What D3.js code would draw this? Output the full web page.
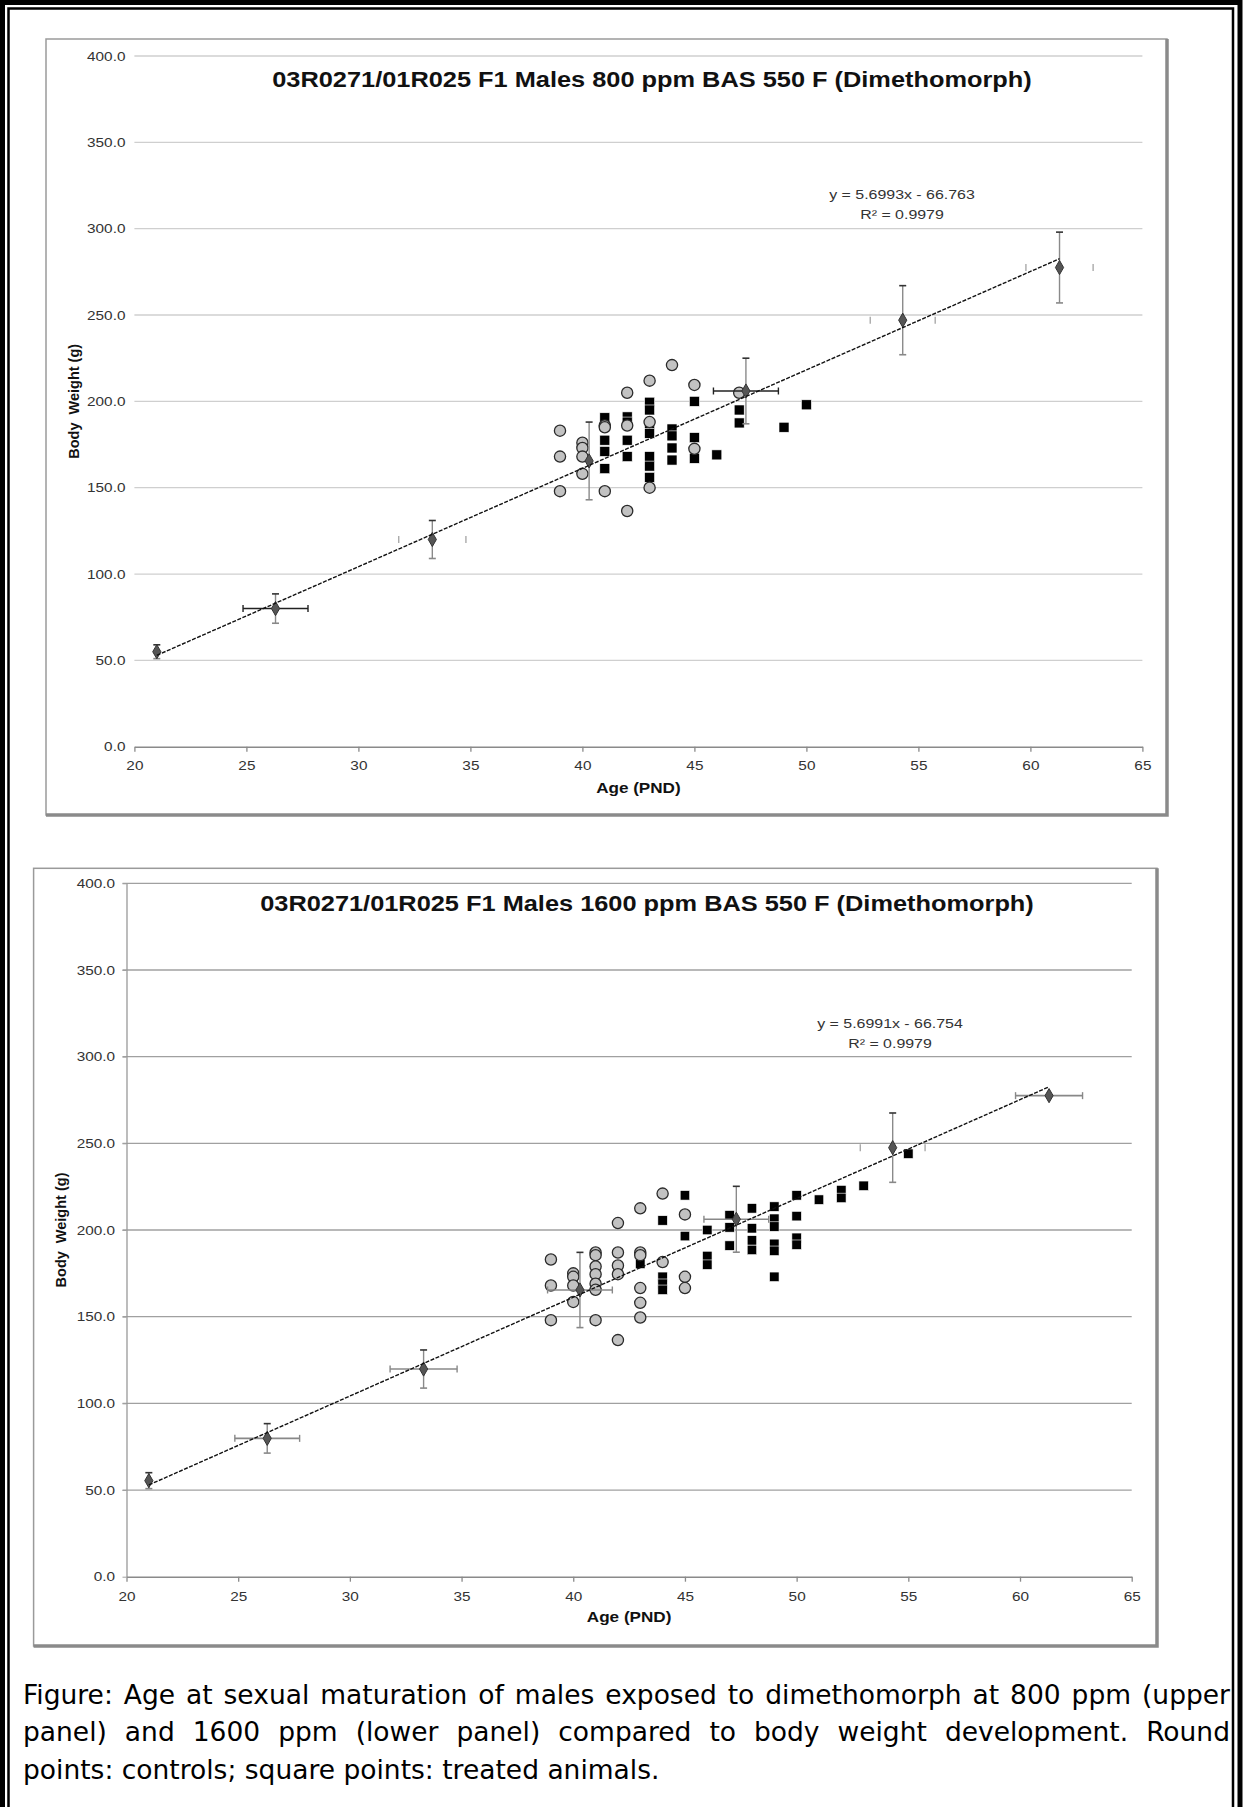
<!DOCTYPE html>
<html>
<head>
<meta charset="utf-8">
<script src="https://cdn.jsdelivr.net/npm/d3@7"></script>
<style>
  body { margin: 0; background: #fff; }
  svg { display: block; }
</style>
</head>
<body>
<div id="svg-area"></div>
<script>
// ---------- data ----------
var ageTicks = [20, 25, 30, 35, 40, 45, 50, 55, 60, 65];
var weightTicks = [0, 50, 100, 150, 200, 250, 300, 350, 400];

// mean body weight curve (diamonds) with SD
var bwAge = [21, 26.3, 33.3, 40.3, 47.3, 54.3, 61.3];
var bwAgeSd = [0, 1.45, 1.5, 1.45, 1.45, 1.45, 1.5];
var bwMean800 = [55, 80, 120, 165.5, 206, 247, 277.5];
var bwSd800 = [4, 8.5, 11, 22.5, 19, 20, 20.5];
var bwMean1600 = [55.4, 79.8, 119.8, 165.4, 206.2, 247.5, 277.5];
var bwSd1600 = [4.6, 8.5, 11, 21.7, 19, 20, 0];

// linear trend of the body weight curve
var trend800 = { slope: 5.6993, intercept: -66.763, r2: 0.9979 };
var trend1600 = { slope: 5.6991, intercept: -66.754, r2: 0.9979 };
var trendRange = [21, 61.3];

// age at sexual maturation vs body weight: controls (round) and treated (square)
var control800 = [
  [39, 183], [39, 168], [39, 148],
  [40, 176], [40, 173], [40, 168], [40, 158],
  [41, 186], [41, 185], [41, 148],
  [42, 205], [42, 186], [42, 136.5],
  [43, 212], [43, 188], [43, 150],
  [44, 221],
  [45, 209.5], [45, 172.5],
  [47, 205]
];
var treated800 = [
  [41, 190.5], [41, 177.5], [41, 171], [41, 161],
  [42, 191], [42, 188], [42, 177.5], [42, 168],
  [43, 199.5], [43, 195], [43, 187], [43, 181.5], [43, 168], [43, 162.5], [43, 156],
  [44, 184], [44, 180], [44, 173], [44, 166],
  [45, 200], [45, 179], [45, 167],
  [46, 169],
  [47, 195], [47, 187.5],
  [49, 185],
  [50, 198]
];
var control1600 = [
  [39, 183], [39, 168], [39, 148],
  [40, 175], [40, 173], [40, 168], [40, 158.5],
  [41, 187], [41, 185.5], [41, 179], [41, 174.5], [41, 169], [41, 165.5], [41, 148],
  [42, 204], [42, 187], [42, 179.5], [42, 174.5], [42, 136.5],
  [43, 212.5], [43, 187], [43, 185.5], [43, 166.5], [43, 158], [43, 149.5],
  [44, 221], [44, 181.5],
  [45, 209], [45, 173], [45, 166.5]
];
var treated1600 = [
  [43, 180.5],
  [44, 205.5], [44, 173], [44, 169], [44, 165.5],
  [45, 220], [45, 196.5],
  [46, 200], [46, 185], [46, 180],
  [47, 208.5], [47, 201.5], [47, 191],
  [48, 212.5], [48, 201], [48, 194], [48, 188.5],
  [49, 213.5], [49, 206.5], [49, 202], [49, 192], [49, 188], [49, 173],
  [50, 220], [50, 208], [50, 195.5], [50, 191.5],
  [51, 217.5],
  [52, 223], [52, 218.5],
  [53, 225.5],
  [55, 244]
];

var titles = [
  "03R0271/01R025 F1 Males 800 ppm BAS 550 F (Dimethomorph)",
  "03R0271/01R025 F1 Males 1600 ppm BAS 550 F (Dimethomorph)"
];
var captionLines = [
  "Figure: Age at sexual maturation of males exposed to dimethomorph at 800 ppm (upper",
  "panel) and 1600 ppm (lower panel) compared to body weight development. Round",
  "points: controls; square points: treated animals."
];

// ---------- page ----------
var svgWidth = 1243;
var svgHeight = 1807;
var chartFont = "'Liberation Sans', Arial, sans-serif";
var capFont = "'DejaVu Sans', Verdana, sans-serif";
var stretch = 1.18; // chart pictures are a bit wider than tall

var svg = d3.select("#svg-area").append("svg")
    .attr("width", svgWidth)
    .attr("height", svgHeight);

svg.append("rect").attr("width", svgWidth).attr("height", svgHeight).attr("fill", "#fff");

// double page border (no bottom edge, the page continues)
svg.append("path")
    .attr("d", `M2.5,${svgHeight} V2.5 H${svgWidth - 3} V${svgHeight}`)
    .attr("fill", "none").attr("stroke", "#000").attr("stroke-width", 5);
svg.append("path")
    .attr("d", `M8.5,${svgHeight} V8.5 H${svgWidth - 10} V${svgHeight}`)
    .attr("fill", "none").attr("stroke", "#000").attr("stroke-width", 2.5);

// horizontally stretched text
function sText(parent, x, y, txt, size, opts) {
    opts = opts || {};
    return parent.append("text")
        .attr("transform", `translate(${x},${y}) scale(${stretch},1)`)
        .attr("font-family", chartFont)
        .attr("font-size", size)
        .attr("font-weight", opts.bold ? "bold" : "normal")
        .attr("fill", opts.fill || "#222")
        .attr("text-anchor", opts.anchor || "middle")
        .text(txt);
}

function drawPanel(p) {
    var g = svg.append("g");

    // chart frame with shadow
    g.append("rect")
        .attr("x", p.frame[0]).attr("y", p.frame[1])
        .attr("width", p.frame[2]).attr("height", p.frame[3])
        .attr("fill", "#fff").attr("stroke", "#9a9a9a").attr("stroke-width", 1.5);
    g.append("path")
        .attr("d", `M${p.frame[0]},${p.frame[1] + p.frame[3]} H${p.frame[0] + p.frame[2]} V${p.frame[1]}`)
        .attr("fill", "none").attr("stroke", "#8a8a8a").attr("stroke-width", 3.5);

    var x = d3.scaleLinear().domain([20, 65]).range([p.left, p.right]);
    var y = d3.scaleLinear().domain([0, 400]).range([p.bottom, p.top]);

    // horizontal gridlines
    g.append("g").selectAll("line")
        .data(weightTicks.filter(d => d > 0))
        .join("line")
        .attr("x1", p.left - p.yTick).attr("x2", p.right)
        .attr("y1", d => y(d)).attr("y2", d => y(d))
        .attr("stroke", p.gridColor).attr("stroke-width", 1.3);

    // x axis
    var xAxis = g.append("g")
        .attr("transform", `translate(0,${p.bottom})`)
        .call(d3.axisBottom(x).tickValues(ageTicks).tickSize(5).tickSizeOuter(0).tickFormat(d3.format("d")));
    xAxis.select(".domain").attr("stroke", "#8a8a8a").attr("stroke-width", 1.6);
    xAxis.selectAll(".tick line").attr("stroke", "#8a8a8a").attr("stroke-width", 1.3);
    xAxis.selectAll(".tick text")
        .attr("font-family", chartFont).attr("font-size", 13).attr("fill", "#333")
        .attr("y", p.xLabelY - p.bottom).attr("dy", 0)
        .attr("transform", `scale(${stretch},1)`);

    // y axis
    var yAxis = g.append("g")
        .attr("transform", `translate(${p.left},0)`)
        .call(d3.axisLeft(y).tickValues(weightTicks).tickSize(p.yTick).tickSizeOuter(0).tickFormat(d3.format(".1f")));
    yAxis.select(".domain").attr("stroke", p.showYLine ? "#999" : "none").attr("stroke-width", 1.3);
    yAxis.selectAll(".tick line").attr("stroke", p.gridColor);
    yAxis.selectAll(".tick text")
        .attr("font-family", chartFont).attr("font-size", 13).attr("fill", "#333")
        .attr("x", -p.yLabelGap / stretch)
        .attr("transform", `scale(${stretch},1)`);

    // titles
    sText(g, p.titleX, p.titleY, p.title, 21.5, { bold: true, fill: "#111" });
    sText(g, (p.left + p.right) / 2, p.xTitleY, "Age (PND)", 14.5, { bold: true, fill: "#111" });
    g.append("text")
        .attr("transform", `translate(${p.yTitleX},${(p.top + p.bottom) / 2}) rotate(-90)`)
        .attr("font-family", chartFont).attr("font-size", 14.5).attr("font-weight", "bold")
        .attr("fill", "#111").attr("text-anchor", "middle")
        .text("Body\u00a0 Weight (g)");

    // trend equation
    sText(g, p.eqX, p.eqY, `y = ${p.trend.slope}x - ${Math.abs(p.trend.intercept)}`, 13.5, { fill: "#333" });
    sText(g, p.eqX, p.eqY + 20, `R² = ${p.trend.r2}`, 13.5, { fill: "#333" });

    // treated animals (squares)
    g.append("g").selectAll("rect")
        .data(p.treated)
        .join("rect")
        .attr("x", d => x(d[0]) - p.sq / 2).attr("y", d => y(d[1]) - p.sq / 2)
        .attr("width", p.sq).attr("height", p.sq)
        .attr("fill", "#000").attr("stroke", "#fff").attr("stroke-width", 0.6);

    // controls (circles)
    g.append("g").selectAll("circle")
        .data(p.control)
        .join("circle")
        .attr("cx", d => x(d[0])).attr("cy", d => y(d[1]))
        .attr("r", 5.6)
        .attr("fill", "#c2c2c2").attr("stroke", "#2a2a2a").attr("stroke-width", 1.3);

    // body weight curve: error bars
    var bw = bwAge.map((a, i) => ({ age: a, mean: p.mean[i], sd: p.sd[i], asd: bwAgeSd[i], style: p.xBar[i] }));
    var eb = g.append("g");
    bw.forEach(function (d) {
        if (d.sd > 0) {
            eb.append("line")
                .attr("x1", x(d.age)).attr("x2", x(d.age))
                .attr("y1", y(d.mean - d.sd)).attr("y2", y(d.mean + d.sd))
                .attr("stroke", "#8a8a8a").attr("stroke-width", 1.4);
            [d.mean - d.sd, d.mean + d.sd].forEach(function (v, k) {
                eb.append("line")
                    .attr("x1", x(d.age) - 3.5).attr("x2", x(d.age) + 3.5)
                    .attr("y1", y(v)).attr("y2", y(v))
                    .attr("stroke", k ? "#333" : "#888").attr("stroke-width", 1.6);
            });
        }
        if (d.style !== "none" && d.asd > 0) {
            if (d.style === "line") {
                eb.append("line")
                    .attr("x1", x(d.age - d.asd)).attr("x2", x(d.age + d.asd))
                    .attr("y1", y(d.mean)).attr("y2", y(d.mean))
                    .attr("stroke", p.xBarColor).attr("stroke-width", 1.6);
            }
            [d.age - d.asd, d.age + d.asd].forEach(function (a) {
                eb.append("line")
                    .attr("x1", x(a)).attr("x2", x(a))
                    .attr("y1", y(d.mean) - 3.5).attr("y2", y(d.mean) + 3.5)
                    .attr("stroke", d.style === "line" ? p.xBarColor : "#aaa").attr("stroke-width", 1.4);
            });
        }
    });

    // diamonds
    g.append("g").selectAll("path")
        .data(bw)
        .join("path")
        .attr("transform", d => `translate(${x(d.age)},${y(d.mean)})`)
        .attr("d", d3.symbol().type(d3.symbolDiamond).size(58))
        .attr("fill", "#555").attr("stroke", "#333").attr("stroke-width", 1);

    // trend line
    g.append("line")
        .attr("x1", x(trendRange[0])).attr("x2", x(trendRange[1]))
        .attr("y1", y(p.trend.slope * trendRange[0] + p.trend.intercept))
        .attr("y2", y(p.trend.slope * trendRange[1] + p.trend.intercept))
        .attr("stroke", "#111").attr("stroke-width", 1.4)
        .attr("stroke-dasharray", "4,1.5");
}

// upper panel: 800 ppm
drawPanel({
    frame: [46, 39, 1121, 776],
    left: 134.4, right: 1142.4, top: 56, bottom: 746.7,
    yTick: 0, showYLine: false, gridColor: "#cfcfcf",
    yLabelGap: 9, xLabelY: 770, xTitleY: 793, yTitleX: 79,
    titleX: 652, titleY: 87, title: titles[0],
    eqX: 902, eqY: 199, trend: trend800,
    mean: bwMean800, sd: bwSd800,
    xBar: ["none", "line", "caps", "none", "line", "caps", "caps"], xBarColor: "#222",
    control: control800, treated: treated800, sq: 10
});

// lower panel: 1600 ppm
drawPanel({
    frame: [33.6, 868.3, 1123.4, 777.7],
    left: 126.5, right: 1131.7, top: 883.3, bottom: 1576.7,
    yTick: 4, showYLine: true, gridColor: "#a0a0a0",
    yLabelGap: 11.5, xLabelY: 1601, xTitleY: 1622, yTitleX: 66,
    titleX: 647, titleY: 911, title: titles[1],
    eqX: 890, eqY: 1028, trend: trend1600,
    mean: bwMean1600, sd: bwSd1600,
    xBar: ["none", "line", "line", "line", "line", "caps", "line"], xBarColor: "#888",
    control: control1600, treated: treated1600, sq: 9.5
});

// ---------- caption, justified like the source ----------
var capSize = 26.5;
var capLeft = 23, capRight = 1230;
var capBase = [1704, 1741, 1779];

captionLines.forEach(function (line, i) {
    var justify = i < captionLines.length - 1;
    if (!justify) {
        svg.append("text")
            .attr("x", capLeft).attr("y", capBase[i])
            .attr("font-family", capFont).attr("font-size", capSize).attr("fill", "#000")
            .text(line);
        return;
    }
    var words = line.split(" ");
    var probe = svg.append("text").attr("font-family", capFont).attr("font-size", capSize);
    var widths = words.map(function (w) { probe.text(w); return probe.node().getComputedTextLength(); });
    probe.remove();
    var gap = (capRight - capLeft - d3.sum(widths)) / (words.length - 1);
    var xPos = capLeft;
    words.forEach(function (w, k) {
        svg.append("text")
            .attr("x", xPos).attr("y", capBase[i])
            .attr("font-family", capFont).attr("font-size", capSize).attr("fill", "#000")
            .text(w);
        xPos += widths[k] + gap;
    });
});
</script>
</body>
</html>
